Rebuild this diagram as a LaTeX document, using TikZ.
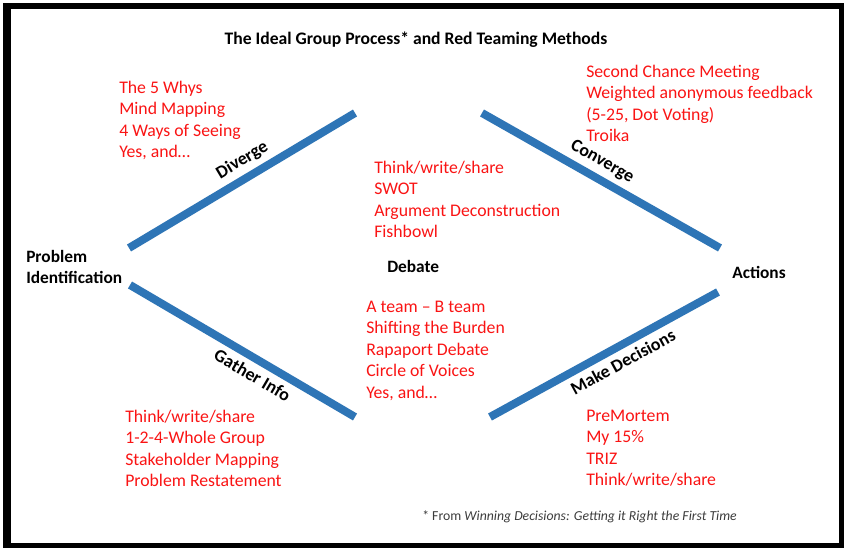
\documentclass[tikz,border=0pt]{standalone}
\usepackage{fontspec}
\setmainfont{Carlito}
\definecolor{lineblue}{RGB}{46,117,182}
\definecolor{txtred}{RGB}{250,20,20}
\definecolor{notegray}{RGB}{60,60,60}
\begin{document}
\begin{tikzpicture}[x=0.75pt,y=-0.75pt,
  redlist/.style={anchor=north west,inner sep=0pt,align=left,text=txtred,font=\fontsize{13.3}{16.2}\selectfont},
  blacklabel/.style={inner sep=0pt,align=left,font=\fontsize{13}{15.5}\selectfont\bfseries},
  phase/.style={draw=lineblue,line width=6pt},
  phaselabel/.style={sloped,font=\fontsize{13.5}{15}\selectfont\bfseries,inner sep=4pt}]
\useasboundingbox (0,0) rectangle (844,548);
\fill[black] (3,3) rectangle (844,548);
\fill[white] (11,9) rectangle (839,543);
\node[inner sep=0pt,font=\fontsize{13.2}{15}\selectfont\bfseries] (title) at (416,40) {The Ideal Group Process* and Red Teaming Methods};
% endpoints
\coordinate (d1) at (129,248); \coordinate (d2) at (355,113);
\coordinate (c1) at (482,113); \coordinate (c2) at (720,248);
\coordinate (g1) at (130,285); \coordinate (g2) at (355,417);
\coordinate (m1) at (490,417); \coordinate (m2) at (718,292);
\draw[phase] (d1) -- node[phaselabel,above,pos=0.54]{Diverge} (d2);
\draw[phase] (c1) -- node[phaselabel,above,pos=0.47]{Converge} (c2);
\draw[phase] (g1) -- node[phaselabel,below,pos=0.58]{Gather Info} (g2);
\draw[phase] (m1) -- node[phaselabel,below,pos=0.55]{Make Decisions} (m2);
% black labels
\node[blacklabel,anchor=west] (prob) at (26,267) {Problem\\Identification};
\node[blacklabel,anchor=west] (act) at (732,272) {Actions};
\node[blacklabel,anchor=west] (deb) at (387,266) {Debate};
% red lists
\node[redlist] (l1) at (119,80.5) {The 5 Whys\\Mind Mapping\\4 Ways of Seeing\\Yes, and…};
\node[redlist] (l2) at (586,64.5) {Second Chance Meeting\\Weighted anonymous feedback\\(5-25, Dot Voting)\\Troika};
\node[redlist] (l3) at (374,160.5) {Think/write/share\\SWOT\\Argument Deconstruction\\Fishbowl};
\node[redlist] (l4) at (366,300.5) {A team – B team\\Shifting the Burden\\Rapaport Debate\\Circle of Voices\\Yes, and…};
\node[redlist] (l5) at (125,409.5) {Think/write/share\\1-2-4-Whole Group\\Stakeholder Mapping\\Problem Restatement};
\node[redlist] (l6) at (586,409.5) {PreMortem\\My 15\%\\TRIZ\\Think/write/share};
\node[inner sep=0pt,anchor=west,text=notegray,font=\fontsize{10.3}{12}\selectfont] (note) at (422,517) {* From \textit{Winning Decisions: Getting it Right the First Time}};
\end{tikzpicture}
\end{document}
